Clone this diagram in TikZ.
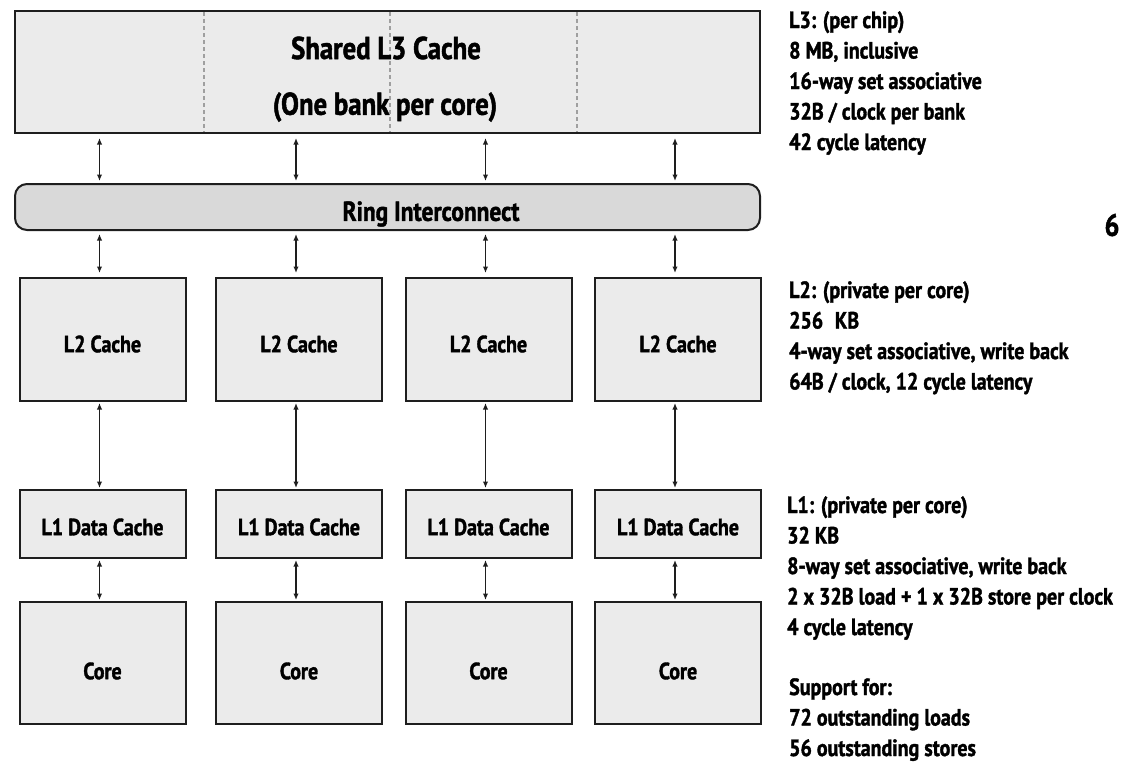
\documentclass[tikz,border=0pt]{standalone}
\usepackage{fontspec}
\setmainfont{PT Sans}[FakeStretch=0.85, BoldFeatures={FakeBold=1.5}]
\usetikzlibrary{arrows.meta}
\definecolor{boxgray}{HTML}{EBEBEB}
\definecolor{ringgray}{HTML}{D9D9D9}
\definecolor{edge}{HTML}{1E1E1E}
\begin{document}
\begin{tikzpicture}[x=1pt,y=-1pt,
  box/.style={draw=edge, line width=2pt, fill=boxgray, inner sep=0, minimum width=166pt},
  lbl/.style={inner sep=0, font=\bfseries\fontsize{23.5}{27}\selectfont},
  big/.style={inner sep=0, font=\bfseries\fontsize{31.5}{36}\selectfont},
  dual/.style={{Latex[length=6.5pt,width=5.5pt]}-{Latex[length=6.5pt,width=5.5pt]}, line width=1.9pt, draw=edge},
  note/.style={anchor=base west, inner sep=0, font=\bfseries\fontsize{23.5}{27}\selectfont},
  bank/.style={draw=gray!75, line width=1.3pt, dash pattern=on 4pt off 3pt}]
\useasboundingbox (0,0) rectangle (1121,764);

% L3
\node[box, minimum width=745pt, minimum height=122pt] (l3) at (387.5,72) {};
\draw[bank] (204,12) -- (204,132);
\draw[bank] (390,12) -- (390,132);
\draw[bank] (577,12) -- (577,132);
\node[big] (l3t1) at (386,48) {Shared L3 Cache};
\node[big] (l3t2) at (385,107) {(One bank per core)};

% Ring
\node[box, fill=ringgray, rounded corners=12pt, minimum width=745pt, minimum height=46pt] (ring) at (387.5,207) {};
\node[inner sep=0, font=\bfseries\fontsize{27.5}{31}\selectfont] (ringt) at (431,214) {Ring Interconnect};

% Columns
\foreach \x [count=\i] in {102.5,299,488.5,678} {
  \node[box, minimum height=123pt] (l2-\i) at (\x,339.5) {};
  \node[lbl] (l2t-\i) at (\x,344) {L2 Cache};
  \node[box, minimum height=68pt] (l1-\i) at (\x,524) {};
  \node[lbl] (l1t-\i) at (\x,527) {L1 Data Cache};
  \node[box, minimum height=122pt] (core-\i) at (\x,663) {};
  \node[lbl] (coret-\i) at (\x,671) {Core};
  \coordinate (c-\i) at (\x-3,0);
  \draw[dual, shorten <=4pt, shorten >=2pt] (l3.south -| c-\i) -- (ring.north -| c-\i);
  \draw[dual, shorten <=3pt, shorten >=4pt] (ring.south -| c-\i) -- (l2-\i.north -| c-\i);
  \draw[dual, shorten <=1pt, shorten >=1pt] (l2-\i.south -| c-\i) -- (l1-\i.north -| c-\i);
  \draw[dual, shorten <=1pt, shorten >=1pt] (l1-\i.south -| c-\i) -- (core-\i.north -| c-\i);
}

% Notes
\foreach \t [count=\i] in {{L3: (per chip)},{8 MB, inclusive},{16-way set associative},{32B / clock per bank},{42 cycle latency}}
  \node[note] (n3-\i) at (789,{28+30.5*(\i-1)}) {\t};
\foreach \t [count=\i] in {{L2: (private per core)},{256\enspace KB},{4-way set associative, write back},{64B / clock, 12 cycle latency}}
  \node[note] (n2-\i) at (789,{298+30.5*(\i-1)}) {\t};
\foreach \t [count=\i] in {{L1: (private per core)},{32 KB},{8-way set associative, write back},{2 x 32B load + 1 x 32B store per clock},{4 cycle latency}}
  \node[note] (n1-\i) at (787,{513+30.5*(\i-1)}) {\t};
\foreach \t [count=\i] in {{Support for:},{72 outstanding loads},{56 outstanding stores}}
  \node[note] (ns-\i) at (789,{695+30.5*(\i-1)}) {\t};
\node[inner sep=0, font=\bfseries\fontsize{31}{35}\selectfont] (pg) at (1112,225) {6};
\end{tikzpicture}
\end{document}
